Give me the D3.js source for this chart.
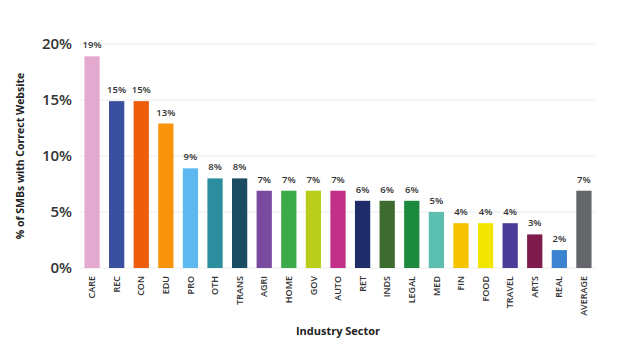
<!DOCTYPE html>
<html>
<head>
<meta charset="utf-8">
<script src="https://cdn.jsdelivr.net/npm/d3@7"></script>
<style>
  body { margin: 0; background: #fff; }
  svg { font-family: "Open Sans", sans-serif; display: block; }
</style>
</head>
<body>
<svg id="chart"></svg>
<script>
const sectors = ["CARE", "REC", "CON", "EDU", "PRO", "OTH", "TRANS", "AGRI", "HOME", "GOV", "AUTO",
    "RET", "INDS", "LEGAL", "MED", "FIN", "FOOD", "TRAVEL", "ARTS", "REAL", "AVERAGE"];
const shares = [18.9, 14.9, 14.9, 12.9, 8.9, 8.0, 8.0, 6.9, 6.9, 6.9, 6.9,
    6.0, 6.0, 6.0, 5.0, 4.0, 4.0, 4.0, 3.0, 1.6, 6.9];
const shareLabels = ["19%", "15%", "15%", "13%", "9%", "8%", "8%", "7%", "7%", "7%", "7%",
    "6%", "6%", "6%", "5%", "4%", "4%", "4%", "3%", "2%", "7%"];
const barColours = ["#e3a9cf", "#3a4f9f", "#ee5c0c", "#f7940b", "#5cb8ef", "#2b8d9d", "#1c4c62",
    "#7a4a9f", "#3aab48", "#b9cd1d", "#c2308a", "#1e2d6a", "#3e6b2f", "#1c8a3e", "#5bbfb0",
    "#f6c300", "#f2e500", "#4a3b96", "#7e1b4c", "#3b83d0", "#64666b"];
const yTicks = [0, 5, 10, 15, 20];

const width = 619, height = 351;
const marginTop = 44, marginLeft = 81, marginRight = 24, marginBottom = 83;

const data = sectors.map((s, i) => ({sector: s, value: shares[i], label: shareLabels[i], colour: barColours[i]}));

const svg = d3.select("#chart")
    .attr("width", width)
    .attr("height", height)
    .attr("viewBox", [0, 0, width, height]);

const x = d3.scaleBand()
    .domain(sectors)
    .range([marginLeft, width - marginRight])
    .paddingInner(0.38)
    .paddingOuter(0.14);

const y = d3.scaleLinear()
    .domain([0, 20])
    .range([height - marginBottom, marginTop]);

// grid
svg.append("g")
    .selectAll("line")
    .data(yTicks)
    .join("line")
    .attr("x1", marginLeft - 2)
    .attr("x2", width - marginRight)
    .attr("y1", d => y(d))
    .attr("y2", d => y(d))
    .attr("stroke", "#ececec")
    .attr("stroke-width", 1);

// y tick labels
svg.append("g")
    .selectAll("text")
    .data(yTicks)
    .join("text")
    .attr("x", 72)
    .attr("y", d => y(d))
    .attr("dy", "0.35em")
    .attr("text-anchor", "end")
    .attr("font-size", 15)
    .attr("font-weight", 600)
    .attr("fill", "#333")
    .text(d => d + "%");

// bars
svg.append("g")
    .selectAll("rect")
    .data(data)
    .join("rect")
    .attr("x", d => x(d.sector))
    .attr("y", d => y(d.value))
    .attr("width", x.bandwidth())
    .attr("height", d => y(0) - y(d.value))
    .attr("fill", d => d.colour);

// value labels
svg.append("g")
    .selectAll("text")
    .data(data)
    .join("text")
    .attr("x", d => x(d.sector) + x.bandwidth() / 2)
    .attr("y", d => y(d.value) - 8)
    .attr("text-anchor", "middle")
    .attr("font-size", 9.5)
    .attr("font-weight", 600)
    .attr("fill", "#333")
    .text(d => d.label);

// category labels
svg.append("g")
    .selectAll("text")
    .data(data)
    .join("text")
    .attr("transform", d => `translate(${x(d.sector) + x.bandwidth() / 2}, ${y(0) + 8}) rotate(-90)`)
    .attr("text-anchor", "end")
    .attr("dy", "0.35em")
    .attr("font-size", 9)
    .attr("font-weight", 600)
    .attr("fill", "#333")
    .text(d => d.sector);

// axis titles
svg.append("text")
    .attr("transform", `translate(20, ${(y(0) + y(20)) / 2}) rotate(-90)`)
    .attr("text-anchor", "middle")
    .attr("dy", "0.35em")
    .attr("font-size", 10.5)
    .attr("font-weight", 700)
    .attr("fill", "#222")
    .text("% of SMBs with Correct Website");

svg.append("text")
    .attr("x", (marginLeft + width - marginRight) / 2)
    .attr("y", 331)
    .attr("text-anchor", "middle")
    .attr("dy", "0.35em")
    .attr("font-size", 11)
    .attr("font-weight", 700)
    .attr("fill", "#222")
    .text("Industry Sector");
</script>
</body>
</html>
